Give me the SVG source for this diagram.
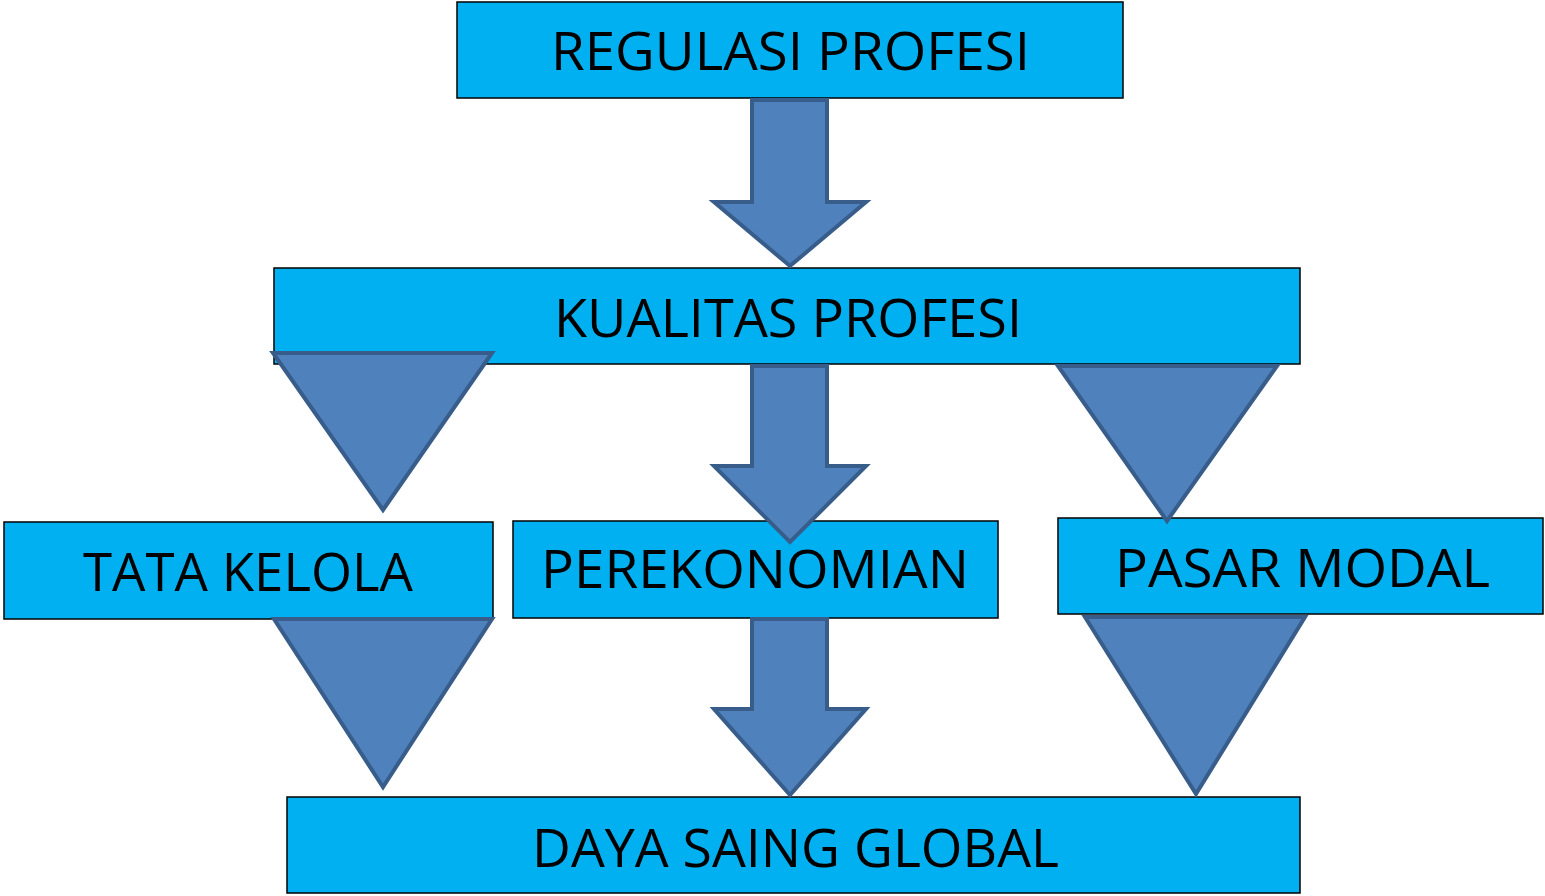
<svg xmlns="http://www.w3.org/2000/svg" width="1545" height="896" viewBox="0 0 1545 896">
<style>
.box{fill:#00b0f0;stroke:#000;stroke-width:1.5}
.lbl{font-family:"Open Sans","Liberation Sans",sans-serif;font-size:53px;fill:#000}
.arr{fill:#4f81bd;stroke:#385d8a;stroke-width:4;stroke-linejoin:miter}
</style>
<rect width="1545" height="896" fill="#fff"/>
<g id="n-regulasi"><rect class="box" x="457" y="2" width="666" height="96"/><text class="lbl" x="551" y="70" textLength="479" lengthAdjust="spacingAndGlyphs">REGULASI PROFESI</text></g>
<g id="n-kualitas"><rect class="box" x="274" y="268" width="1026" height="96"/><text class="lbl" x="554" y="337" textLength="468" lengthAdjust="spacingAndGlyphs">KUALITAS PROFESI</text></g>
<g id="n-tata"><rect class="box" x="4" y="522" width="489" height="97"/><text class="lbl" x="83" y="591" textLength="330" lengthAdjust="spacingAndGlyphs">TATA KELOLA</text></g>
<g id="n-perekonomian"><rect class="box" x="513" y="521" width="485" height="97"/><text class="lbl" x="541" y="588" textLength="428" lengthAdjust="spacingAndGlyphs">PEREKONOMIAN</text></g>
<g id="n-pasar"><rect class="box" x="1058" y="518" width="485" height="96"/><text class="lbl" x="1115" y="587" textLength="375" lengthAdjust="spacingAndGlyphs">PASAR MODAL</text></g>
<g id="n-daya"><rect class="box" x="287" y="797" width="1013" height="96"/><text class="lbl" x="532" y="867" textLength="527" lengthAdjust="spacingAndGlyphs">DAYA SAING GLOBAL</text></g>
<g id="connectors">
<polygon class="arr" points="752,100 827,100 827,202 866,202 790,266 714,202 752,202"/>
<polygon class="arr" points="752,366 827,366 827,466 866,466 790,542 714,466 752,466"/>
<polygon class="arr" points="752,619 827,619 827,709 866,709 790,795 714,709 752,709"/>
<polygon class="arr" points="273,353 492,353 383,510"/>
<polygon class="arr" points="1058,366 1277,366 1167,521"/>
<polygon class="arr" points="274,619 492,619 383,787"/>
<polygon class="arr" points="1085,617 1305,617 1196,794"/>
</g>
</svg>
